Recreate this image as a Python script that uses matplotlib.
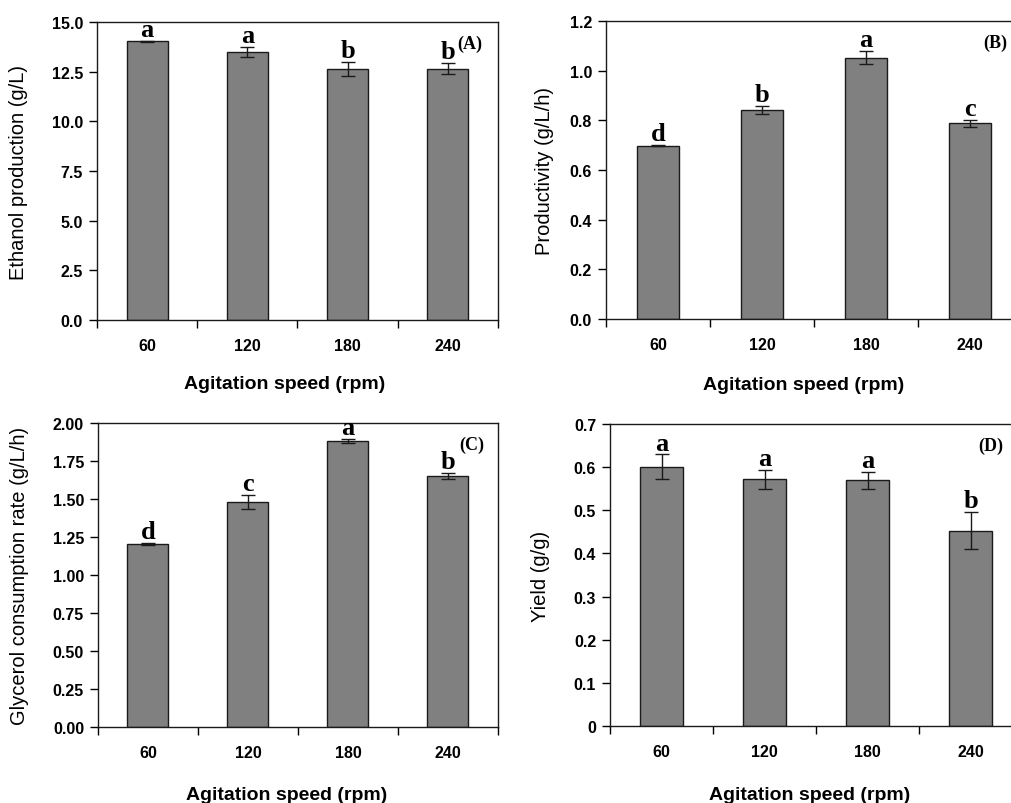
import numpy as np
import matplotlib
matplotlib.use("Agg")
import matplotlib.pyplot as plt

plt.rcParams['font.family'] = ['Liberation Sans', 'DejaVu Sans']

speeds = ['60', '120', '180', '240']

ethanol = [14.03, 13.50, 12.65, 12.65]
ethanol_err = [0.04, 0.26, 0.35, 0.28]
ethanol_grp = ['a', 'a', 'b', 'b']

productivity = [0.698, 0.842, 1.052, 0.788]
productivity_err = [0.003, 0.017, 0.027, 0.014]
productivity_grp = ['d', 'b', 'a', 'c']

glycerol = [1.205, 1.480, 1.882, 1.653]
glycerol_err = [0.006, 0.045, 0.015, 0.02]
glycerol_grp = ['d', 'c', 'a', 'b']

yield_gg = [0.602, 0.572, 0.570, 0.453]
yield_err = [0.028, 0.023, 0.020, 0.043]
yield_grp = ['a', 'a', 'a', 'b']

fig = plt.figure(figsize=(10.11, 8.04), dpi=100)

panels = [
    # rect, values, errors, letters, ylabel, ylim, yticks, fmt, tag, tag pos, ylabel x, xlabel pos
    ([0.0959, 0.6007, 0.3966, 0.3706], ethanol, ethanol_err, ethanol_grp,
     'Ethanol production (g/L)', 15.0, np.arange(0, 15.01, 2.5), '{:.1f}',
     '(A)', (0.898, 0.93), -0.172, (0.469, -0.185)),
    ([0.5994, 0.602, 0.4115, 0.3706], productivity, productivity_err, productivity_grp,
     'Productivity (g/L/h)', 1.2, np.arange(0, 1.21, 0.2), '{:.1f}',
     '(B)', (0.906, 0.93), -0.125, (0.474, -0.191)),
    ([0.0969, 0.0941, 0.3956, 0.3785], glycerol, glycerol_err, glycerol_grp,
     'Glycerol consumption rate (g/L/h)', 2.0, np.arange(0, 2.01, 0.25), '{:.2f}',
     '(C)', (0.9025, 0.93), -0.1725, (0.472, -0.192)),
    ([0.6034, 0.0961, 0.4075, 0.3749], yield_gg, yield_err, yield_grp,
     'Yield (g/g)', 0.7, np.arange(0, 0.71, 0.1), '{:.1f}',
     '(D)', (0.893, 0.93), -0.146, (0.484, -0.199)),
]

for rect, vals, errs, grp, ylab, ymax, yt, fmt, tag, tagpos, ylx, xlpos in panels:
    ax = fig.add_axes(rect)
    x = np.arange(len(speeds))
    ax.bar(x, vals, width=0.41, color='#808080', edgecolor='#1a1a1a', linewidth=1.0,
           yerr=errs, capsize=5, error_kw=dict(ecolor='#1a1a1a', elinewidth=1.0, capthick=1.0))
    ax.set_xlim(-0.5, len(speeds) - 0.5)
    ax.set_ylim(0, ymax)

    # ticks sit between categories, labels under the bars
    ax.set_xticks(np.arange(len(speeds) + 1) - 0.5)
    ax.set_xticklabels([])
    ax.set_xticks(x, minor=True)
    ax.set_xticklabels(speeds, minor=True, fontsize=11.5, fontweight='bold')
    ax.tick_params(axis='x', which='major', direction='out', length=6, width=1)
    ax.tick_params(axis='x', which='minor', length=0, pad=13)

    ax.set_yticks(yt)
    if tag == '(D)':
        ax.set_yticklabels(['0'] + ['{:.1f}'.format(v) for v in yt[1:]])
    else:
        ax.set_yticklabels([fmt.format(v) for v in yt])
    ax.tick_params(axis='y', direction='out', length=6, width=1, labelsize=11.5, pad=4)
    for lbl in ax.get_yticklabels():
        lbl.set_fontweight('bold')

    for s in ax.spines.values():
        s.set_linewidth(1.0)
        s.set_color('#1a1a1a')

    ax.set_ylabel(ylab, fontsize=14.5)
    ax.yaxis.set_label_coords(ylx, 0.5)
    ax.set_xlabel('Agitation speed (rpm)', fontsize=14, fontweight='bold', va='top')
    ax.xaxis.set_label_coords(*xlpos)

    for xi, v, e, g in zip(x, vals, errs, grp):
        ax.annotate(g, (xi, v + e), xytext=(0, 3.5), textcoords='offset points',
                    ha='center', va='baseline', fontsize=19, fontweight='bold',
                    family='Liberation Serif')

    ax.text(tagpos[0], tagpos[1], tag, transform=ax.transAxes, ha='left', va='center',
            fontsize=13, fontweight='bold', family='Liberation Serif')

fig.savefig('out.png', dpi=100)
